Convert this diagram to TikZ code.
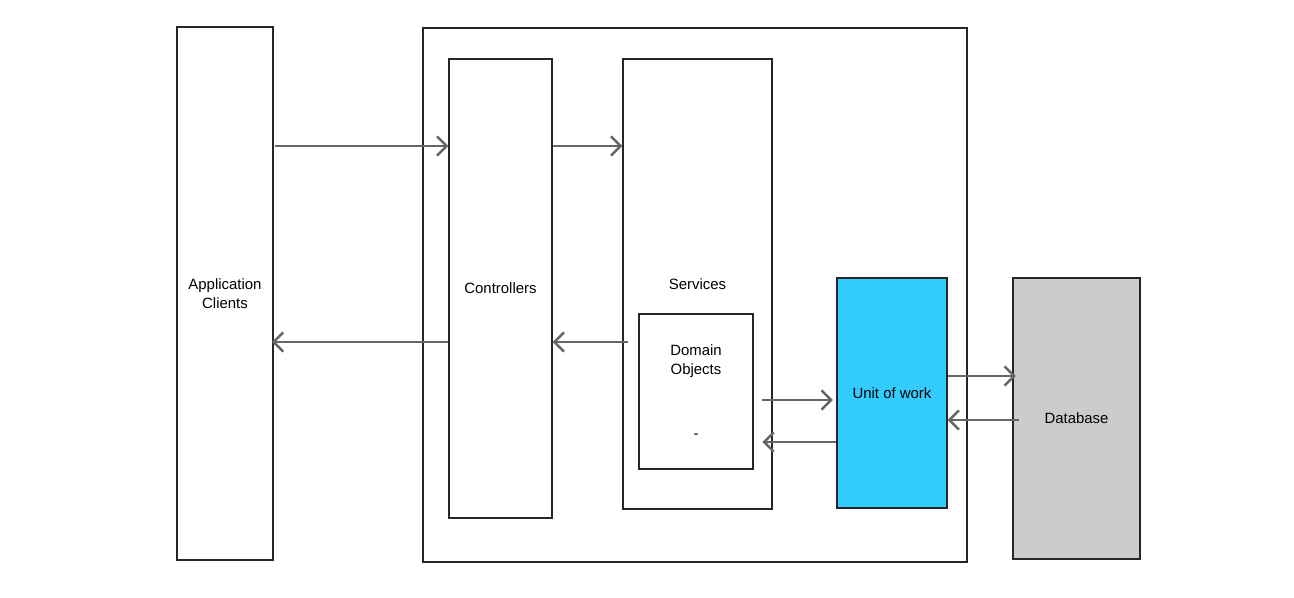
\documentclass[tikz,border=0pt]{standalone}
\usepackage{fontspec}
\setmainfont{Liberation Sans}
\usetikzlibrary{arrows.meta}
\begin{document}
\begin{tikzpicture}[x=0.02cm,y=-0.02cm,
  box/.style={draw=black!85,line width=0.7pt,inner sep=0pt,font=\fontsize{8.5}{11}\selectfont,align=center},
  lbl/.style={inner sep=0pt,font=\fontsize{8.5}{11}\selectfont,align=center},
  arr/.style={draw=black!60,line width=1.4pt,-{Straight Barb[length=5.5pt,width=11pt,line width=1.4pt]}}]
\useasboundingbox (0,0) rectangle (1294,598);
  \node[box,minimum width=10.88cm,minimum height=10.68cm] (outer) at (695,295) {};
  \node[box,minimum width=1.92cm,minimum height=10.66cm] (clients) at (225,293.5) {Application\\Clients};
  \node[box,minimum width=2.06cm,minimum height=9.18cm] (ctrl) at (500.5,288.5) {Controllers};
  \node[box,minimum width=2.98cm,minimum height=9cm] (serv) at (697.5,284) {Services};
  \node[box,fill=white,minimum width=2.28cm,minimum height=3.1cm] (domain) at (696,391.5) {};
  \node[lbl] (domtxt) at (696,361) {Domain\\Objects};
  \node[lbl] (dash) at (696,436) {-};
  \node[box,fill={rgb,255:red,51;green,204;blue,255},minimum width=2.2cm,minimum height=4.6cm] (uow) at (892,393) {Unit of work};
  \node[box,fill={rgb,255:red,204;green,204;blue,204},minimum width=2.54cm,minimum height=5.62cm] (db) at (1076.5,418.5) {Database};
  \coordinate (r1) at (0,146);
  \coordinate (r2) at (0,342);
  \coordinate (r3) at (0,400);
  \coordinate (r4) at (0,442);
  \coordinate (r5) at (0,376);
  \coordinate (r6) at (0,420);
  \draw[arr] ([xshift=1pt]clients.east |- r1) -- (ctrl.west |- r1);
  \draw[arr] (ctrl.east |- r1) -- (serv.west |- r1);
  \draw[arr] (ctrl.west |- r2) -- ([xshift=-1pt]clients.east |- r2);
  \draw[arr] ([xshift=3pt]serv.west |- r2) -- (ctrl.east |- r2);
  \draw[arr] ([xshift=5pt]domain.east |- r3) -- ([xshift=-2pt]uow.west |- r3);
  \draw[arr] (uow.west |- r4) -- ([xshift=5pt]domain.east |- r4);
  \draw[arr] (uow.east |- r5) -- ([xshift=2pt]db.west |- r5);
  \draw[arr] ([xshift=4pt]db.west |- r6) -- (uow.east |- r6);
\end{tikzpicture}
\end{document}
